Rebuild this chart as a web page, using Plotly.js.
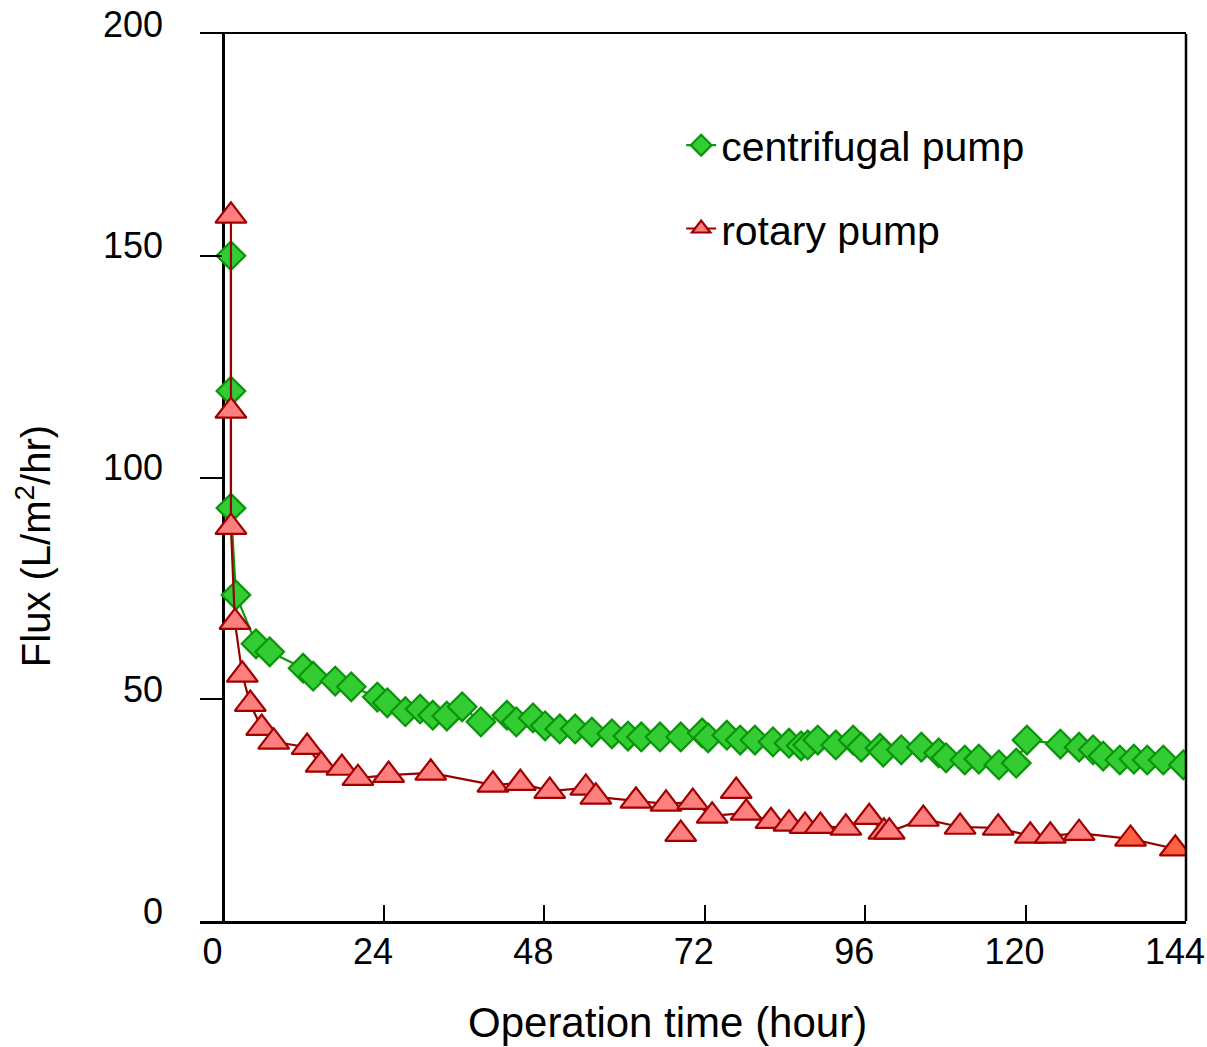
<!DOCTYPE html>
<html>
<head>
<meta charset="utf-8">
<script src="https://cdn.plot.ly/plotly-3.0.1.min.js"></script>
<style>html,body{margin:0;padding:0;background:#fff;}#chart{width:1207px;height:1047px;}</style>
</head>
<body>
<div id="chart"></div>
<script>
const seriesNames = ["centrifugal pump", "rotary pump"];
const xTickValues = [0, 24, 48, 72, 96, 120, 144];
const yTickValues = [0, 50, 100, 150, 200];
const xTitle = "Operation time (hour)";
const yTitle = "Flux (L/m<sup>2</sup>/hr)";

const centrifugalTime = [1.1, 1.1, 1.1, 1.85, 4.85, 6.9, 11.9, 13.4, 16.7, 19.1, 23.0, 24.5, 27.2, 29.4, 31.3, 33.4, 35.7, 38.5,
  42.4, 43.8, 46.3, 48.1, 50.3, 52.6, 55.1, 58.1, 60.5, 62.5, 65.3, 68.4, 71.6, 72.5, 75.3, 77.3, 79.5, 82.2, 84.6, 86.4, 87.4, 88.9,
  91.6, 94.2, 95.4, 98.2, 98.7, 101.4, 104.4, 107.0, 108.1, 110.9, 113.0, 116.0, 118.6, 120.2, 125.2, 128.0, 130.1, 131.6, 134.1,
  136.2, 138.2, 140.6, 143.6];
const centrifugalFlux = [150, 119.5, 93.1, 73.5, 62.5, 60.7, 57.0, 55.2, 54.1, 52.8, 50.5, 49.2, 47.2, 47.8, 46.4, 46.2, 48.3, 44.9,
  46.4, 44.9, 45.8, 44.0, 43.3, 43.3, 42.6, 42.2, 41.7, 41.5, 41.5, 41.5, 42.4, 41.3, 41.9, 40.8, 40.8, 40.4, 40.1, 39.5, 39.7, 40.8,
  39.7, 40.8, 39.2, 39.0, 38.1, 38.6, 39.2, 37.9, 36.8, 36.3, 36.5, 35.2, 35.6, 40.8, 39.9, 39.2, 38.6, 37.2, 36.3,
  36.5, 36.3, 36.3, 35.2];

// rotary pump points that lie on the connecting line
const rotaryTime = [1.1, 1.1, 1.1, 1.7, 2.8, 4.0, 5.7, 7.5, 12.5, 14.6, 17.7, 20.1, 24.7, 31.0, 40.3,
  44.4, 48.8, 54.2, 55.7, 61.7, 66.2, 70.2, 73.1, 78.2, 81.9, 84.6, 87.0, 89.3, 93.1, 96.6, 98.8, 99.6,
  104.7, 110.2, 115.9, 120.7, 123.7, 128.0, 135.7, 142.4];
const rotaryFlux = [159, 115, 88.8, 67.4, 55.5, 48.9, 43.5, 40.4, 39.2, 35.2, 34.5, 32.2, 32.9, 33.4, 30.7,
  31.1, 29.3, 30.0, 28.0, 27.1, 26.4, 26.8, 23.7, 24.4, 22.5, 21.9, 21.4, 21.4, 21.0, 23.4, 20.1, 20.1,
  23.0, 21.2, 21.0, 19.2, 19.2, 19.8, 18.5, 16.3];
// rotary pump points lying off the line
const rotaryOffTime = [68.4, 76.7];
const rotaryOffFlux = [19.6, 29.3];

const FONT = "Liberation Sans, Arial, Helvetica, sans-serif";
const PINK = "#ff7f7f", ORANGE = "#ff6040";
const rotaryColors = rotaryTime.map(t => t > 130 ? ORANGE : PINK);

const traces = [
  {
    x: centrifugalTime, y: centrifugalFlux, name: seriesNames[0], type: "scatter", mode: "lines+markers",
    legendgroup: "a",
    line: {color: "#0a9a0a", width: 2.2},
    marker: {symbol: "diamond", size: 22, color: "#33cc33", line: {color: "#0a940a", width: 2.2}}
  },
  {
    x: rotaryTime, y: rotaryFlux, name: seriesNames[1], type: "scatter", mode: "lines+markers",
    legendgroup: "b",
    line: {color: "#990000", width: 2.2},
    marker: {symbol: "triangle-up", size: 27, color: rotaryColors, line: {color: "#a00000", width: 2.2}}
  },
  {
    x: rotaryOffTime, y: rotaryOffFlux, name: seriesNames[1], type: "scatter", mode: "markers",
    legendgroup: "b", showlegend: false,
    marker: {symbol: "triangle-up", size: 27, color: PINK, line: {color: "#a00000", width: 2.2}}
  }
];

const layout = {
  width: 1207, height: 1047,
  margin: {l: 200, r: 21, t: 34, b: 126},
  paper_bgcolor: "#fff", plot_bgcolor: "#fff",
  font: {family: FONT, color: "#000", size: 36},
  showlegend: true,
  legend: {
    x: 0.488, y: 0.912, xanchor: "left", yanchor: "top",
    bgcolor: "rgba(0,0,0,0)", borderwidth: 0,
    font: {family: FONT, size: 41, color: "#000"},
    traceorder: "grouped", tracegroupgap: 27
  },
  xaxis: {
    range: [-3.53, 144], tickvals: xTickValues, ticktext: xTickValues.map(String),
    ticks: "inside", ticklen: 16, tickwidth: 2, tickcolor: "#000",
    showline: true, linecolor: "#000", linewidth: 2.5, mirror: true,
    showgrid: false, zeroline: true, zerolinecolor: "#000", zerolinewidth: 2.5,
    tickfont: {family: FONT, size: 36, color: "#000"},
    ticklabelshift: -11, ticklabelstandoff: -3
  },
  yaxis: {
    range: [0, 200], tickvals: yTickValues, ticktext: yTickValues.map(String),
    ticks: "inside", ticklen: 22, tickwidth: 2, tickcolor: "#000",
    showline: false, showgrid: false, zeroline: false,
    tickfont: {family: FONT, size: 36, color: "#000"},
    ticklabelshift: -10, ticklabelstandoff: 36
  },
  shapes: [
    {type: "line", xref: "paper", yref: "paper", x0: 1, x1: 1, y0: 0, y1: 1, line: {color: "#000", width: 2.5}}
  ],
  annotations: [
    {text: xTitle, xref: "paper", yref: "paper", x: 0.474, y: -0.114, xanchor: "center", yanchor: "middle",
     showarrow: false, font: {family: FONT, size: 42, color: "#000"}},
    {text: yTitle, xref: "paper", yref: "paper", x: -0.169, y: 0.423, xanchor: "center", yanchor: "middle",
     textangle: -90, showarrow: false, font: {family: FONT, size: 40, color: "#000"}}
  ]
};

Plotly.newPlot("chart", traces, layout, {displayModeBar: false, staticPlot: true});
</script>
</body>
</html>
